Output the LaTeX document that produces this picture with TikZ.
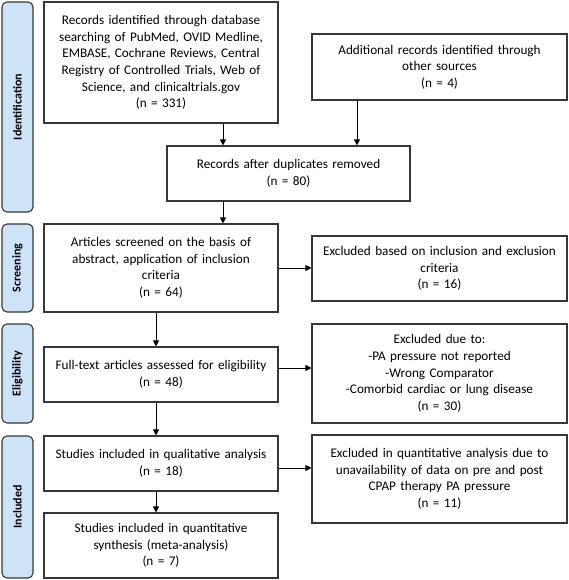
\documentclass[tikz,border=0pt]{standalone}
\usepackage{fontspec}
\setmainfont{Carlito}
\usetikzlibrary{arrows.meta,calc}
\definecolor{stagefill}{RGB}{205,228,248}
\definecolor{edge}{RGB}{55,55,55}
\tikzset{
  flowbox/.style={draw=edge,line width=1.1pt,fill=white,inner sep=0pt,align=center,
    font=\fontsize{13.2}{16.6}\selectfont},
  stagebox/.style={draw=edge,line width=1.1pt,fill=stagefill,rounded corners=5pt},
  stagetext/.style={rotate=90,font=\fontsize{12}{14}\selectfont\bfseries,text=black},
  arr/.style={draw=black,line width=1pt,-{Triangle[length=6pt,width=6pt]}}
}
\begin{document}
\begin{tikzpicture}[x=1pt,y=-1pt]
\useasboundingbox (0,0) rectangle (568,580);
% stage labels
\draw[stagebox] (2,2) rectangle (33,212);
\node[stagetext] (lid) at (17.5,107) {Identification};
\draw[stagebox] (2,224) rectangle (33,312);
\node[stagetext] (lsc) at (17.5,268) {Screening};
\draw[stagebox] (2,324) rectangle (33,423);
\node[stagetext] (lel) at (17.5,373.5) {Eligibility};
\draw[stagebox] (2,436) rectangle (33,578);
\node[stagetext] (lin) at (17.5,507) {Included};
% boxes
\node[flowbox,minimum width=234pt,minimum height=121pt,text width=230pt] (b1) at (161,62.5)
 {Records identified through database\\searching of PubMed, OVID Medline,\\EMBASE, Cochrane Reviews, Central\\Registry of Controlled Trials, Web of\\Science, and clinicaltrials.gov\\(n = 331)};
\node[flowbox,minimum width=255pt,minimum height=66pt,text width=251pt] (b2) at (439.5,67)
 {Additional records identified through\\other sources\\(n = 4)};
\node[flowbox,minimum width=243pt,minimum height=55pt,text width=239pt] (b3) at (288.5,173.5)
 {Records after duplicates removed\\(n = 80)};
\node[flowbox,minimum width=234pt,minimum height=88pt,text width=230pt] (sc) at (161,268)
 {Articles screened on the basis of\\abstract, application of inclusion\\criteria\\(n = 64)};
\node[flowbox,minimum width=255pt,minimum height=65pt,text width=251pt] (ex1) at (439.5,268.5)
 {Excluded based on inclusion and exclusion\\criteria\\(n = 16)};
\node[flowbox,minimum width=234pt,minimum height=55pt,text width=230pt] (ft) at (161,374.5)
 {Full-text articles assessed for eligibility\\(n = 48)};
\node[flowbox,minimum width=255pt,minimum height=99pt,text width=251pt] (ex2) at (439.5,373.5)
 {Excluded due to:\\-PA pressure not reported\\-Wrong Comparator\\-Comorbid cardiac or lung disease\\(n = 30)};
\node[flowbox,minimum width=234pt,minimum height=55pt,text width=230pt] (ql) at (161,463.5)
 {Studies included in qualitative analysis\\(n = 18)};
\node[flowbox,minimum width=255pt,minimum height=88pt,text width=251pt] (ex3) at (439.5,479)
 {Excluded in quantitative analysis due to\\unavailability of data on pre and post\\CPAP therapy PA pressure\\(n = 11)};
\node[flowbox,minimum width=234pt,minimum height=65pt,text width=230pt] (qn) at (161,545.5)
 {Studies included in quantitative\\synthesis (meta-analysis)\\(n = 7)};
% arrows
\draw[arr] ([xshift=62pt]b1.south) -- ([xshift=62pt]b1.south |- b3.north);
\draw[arr] ([xshift=-82.5pt]b2.south) -- ([xshift=-82.5pt]b2.south |- b3.north);
\draw[arr] ([xshift=-65.5pt]b3.south) -- ([xshift=-65.5pt]b3.south |- sc.north);
\draw[arr] ([xshift=-5pt]sc.south) -- ([xshift=-5pt]sc.south |- ft.north);
\draw[arr] ([xshift=-5pt]ft.south) -- ([xshift=-5pt]ft.south |- ql.north);
\draw[arr] ([xshift=-5pt]ql.south) -- ([xshift=-5pt]ql.south |- qn.north);
\draw[arr] (sc.east) -- (sc.east -| ex1.west);
\draw[arr] ([yshift=6.5pt]ft.east) -- ([yshift=6.5pt]ft.east -| ex2.west);
\draw[arr] ([yshift=-4.5pt]ql.east) -- ([yshift=-4.5pt]ql.east -| ex3.west);
\end{tikzpicture}
\end{document}
